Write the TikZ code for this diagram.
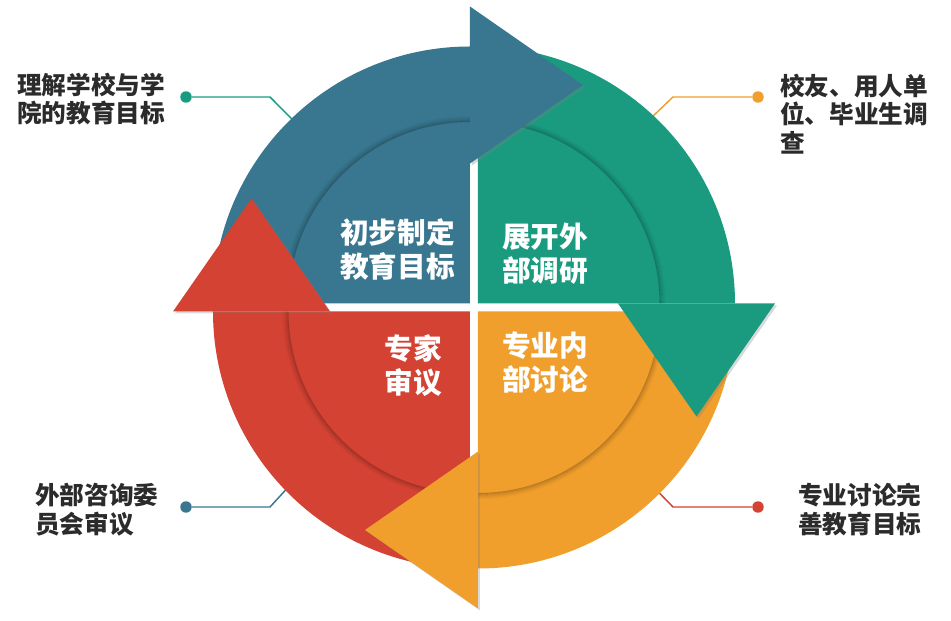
\documentclass[tikz,border=0pt]{standalone}
\usepackage{fontspec}
\newfontfamily\cjk{Noto Sans CJK SC}
\usepackage{tikz}
\usetikzlibrary{shadows}
\definecolor{RingBlue}{HTML}{38778F}
\definecolor{RingTeal}{HTML}{1A9B7F}
\definecolor{RingOrange}{HTML}{F09E2C}
\definecolor{RingRed}{HTML}{D34233}
\definecolor{LabelGray}{HTML}{2B2B2B}
\tikzset{
  ringlabel/.style={font=\cjk\bfseries\fontsize{21.5pt}{25.5pt}\selectfont, text=white, inner sep=0pt},
  sidelabel/.style={font=\cjk\bfseries\fontsize{18.5pt}{21.5pt}\selectfont, text=LabelGray, inner sep=0pt, align=left},
  leaddot/.style={circle, inner sep=0pt, minimum size=8.6pt},
  leadline/.style={line width=1.1pt},
  headshadow/.style={drop shadow={shadow xshift=1.5pt, shadow yshift=-1.5pt, opacity=0.3}}
}

\begin{document}
\begin{tikzpicture}[x=0.75pt, y=0.75pt]
  \useasboundingbox (-474,-313.5) rectangle (477,307.5);

  % Leader lines
  \node[leaddot, fill=RingTeal] (dotTL) at (-288,210.5) {};
  \node[leaddot, fill=RingOrange] (dotTR) at (284,210.5) {};
  \node[leaddot, fill=RingBlue] (dotBL) at (-288,-199.5) {};
  \node[leaddot, fill=RingRed] (dotBR) at (284,-199.5) {};
  \coordinate (kneeTL) at (-204,210.5);
  \coordinate (kneeTR) at (199,210.5);
  \coordinate (kneeBL) at (-204,-199.5);
  \coordinate (kneeBR) at (199,-199.5);
  \coordinate (ringTL) at (134:255);
  \coordinate (ringTR) at (47:255);
  \coordinate (ringBL) at (224:255);
  \coordinate (ringBR) at (-45:255);
  \draw[leadline, RingTeal] (dotTL) -- (kneeTL) -- (ringTL);
  \draw[leadline, RingOrange] (dotTR) -- (kneeTR) -- (ringTR);
  \draw[leadline, RingBlue] (dotBL) -- (kneeBL) -- (ringBL);
  \draw[leadline, RingRed] (dotBR) -- (kneeBR) -- (ringBR);

  % Quarters
  \foreach \e/\col in {90/RingBlue, 0/RingTeal, -90/RingOrange, 180/RingRed}{
    \begin{scope}[shift={(\e+45:5.66)}, rotate=\e]
      \fill[\col] (0,0) -- (0:257) arc[start angle=0, end angle=90, radius=257] -- cycle;
      \foreach \i/\o in {1/0.2, 2/0.14, 3/0.1, 4/0.07, 5/0.045, 6/0.025}
        \draw[black, opacity=\o, line width=0.8pt] (0:181+\i) arc[start angle=0, end angle=90, radius=181+\i];
    \end{scope}
  }

  % Arrow heads
  \foreach \e/\col in {90/RingBlue, 0/RingTeal, -90/RingOrange, 180/RingRed}{
    \begin{scope}[shift={(\e+45:5.66)}, rotate=\e]
      \fill[\col, headshadow] (0:140) -- (0:297) -- (218.5,-113) -- cycle;
    \end{scope}
  }

  % Stages
  \node[ringlabel, anchor=east, align=right] (stageA) at (-19,58) {初步制定\\教育目标};
  \node[ringlabel, anchor=west, align=left] (stageB) at (28,54) {展开外\\部调研};
  \node[ringlabel, anchor=west, align=left] (stageC) at (28,-54.5) {专业内\\部讨论};
  \node[ringlabel, anchor=east, align=right] (stageD) at (-32,-58.5) {专家\\审议};

  % Labels
  \node[sidelabel, anchor=west] (goalTL) at (-457,208.5) {理解学校与学\\院的教育目标};
  \node[sidelabel, anchor=west] (goalTR) at (306,193.5) {校友、用人单\\位、毕业生调\\查};
  \node[sidelabel, anchor=west] (goalBL) at (-439,-202) {外部咨询委\\员会审议};
  \node[sidelabel, anchor=west] (goalBR) at (324,-202) {专业讨论完\\善教育目标};
\end{tikzpicture}
\end{document}
